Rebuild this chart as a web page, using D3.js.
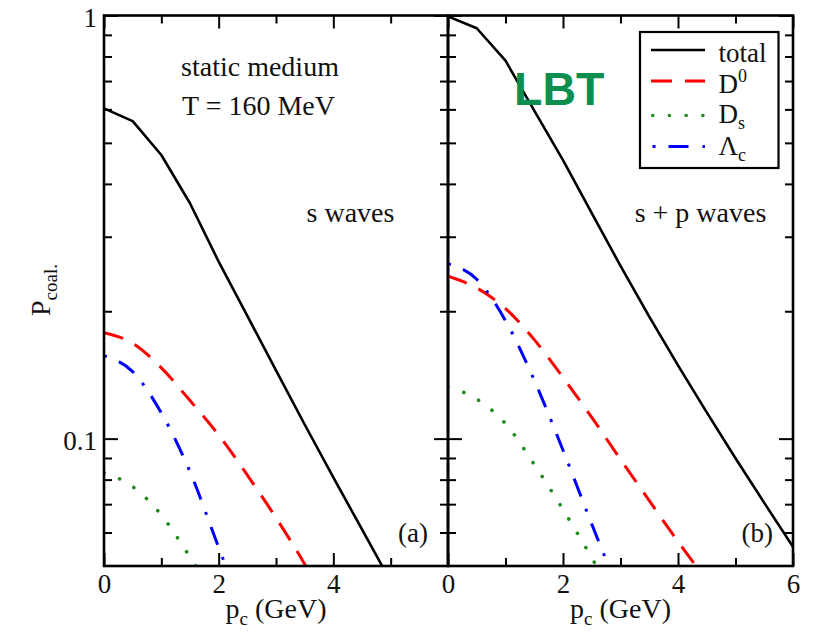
<!DOCTYPE html>
<html><head><meta charset="utf-8">
<script src="https://cdn.jsdelivr.net/npm/d3@7"></script>
<style>body{margin:0;background:#fff}</style>
</head><body>
<svg id="c" width="825" height="636"></svg>
<script>
// ---------------- data ----------------
const pc = [0, 0.5, 1, 1.5, 2, 2.5, 3, 3.5, 4, 4.5, 5, 5.5, 6];
// (a) s waves
const totalS = [0.603, 0.563, 0.468, 0.360, 0.262, 0.195, 0.145, 0.108, 0.081, 0.061, 0.046];
const d0S    = [0.178, 0.168, 0.147, 0.123, 0.102, 0.082, 0.065, 0.0505, 0.038];
const dsS    = [0.083, 0.077, 0.066, 0.0525, 0.041];
const lcS    = [0.157, 0.144, 0.115, 0.0835, 0.0553, 0.037];
// (b) s + p waves
const totalSP = [0.995, 0.933, 0.782, 0.596, 0.455, 0.3413, 0.256, 0.1942, 0.149, 0.1154, 0.0899, 0.0705, 0.0555];
const d0SP    = [0.242, 0.227, 0.203, 0.1714, 0.1395, 0.1123, 0.0893, 0.0714, 0.0571, 0.0463];
const dsSP    = [0.1324, 0.124, 0.1085, 0.0869, 0.068, 0.0523, 0.0396];
const lcSP    = [0.259, 0.238, 0.190, 0.1374, 0.0939, 0.0628, 0.0427];

const xMajorL = [0, 2, 4];
const xMajorR = [0, 2, 4, 6];
const xMinor = [1, 3, 5];
const yMajor = [0.1, 1];
const yMinor = [0.06, 0.07, 0.08, 0.09, 0.2, 0.3, 0.4, 0.5, 0.6, 0.7, 0.8, 0.9];
const legendLabels = ["total", "D", "D", "Λ"];
const legendScripts = ["", "0", "s", "c"];

// ---------------- layout ----------------
const serif = "'Liberation Serif','Times New Roman',serif";
const svg = d3.select('#c');
const yTop = 15.5, yBot = 566;
const y = d3.scaleLog().domain([0.05, 1]).range([yBot, yTop]);

const styles = {
  total: {color: '#000', width: 2.6, dash: null, cap: 'butt', curve: d3.curveLinear},
  d0:    {color: '#ff0000', width: 3, dash: '20,13', cap: 'butt', curve: d3.curveMonotoneX},
  ds:    {color: '#1e8c1e', width: 3.6, dash: '0.1,16.6', cap: 'round', curve: d3.curveMonotoneX},
  lc:    {color: '#0000ff', width: 3, dash: '3,13,19,13', cap: 'butt', curve: d3.curveMonotoneX}
};

const panels = [
  {x0: 104, x1: 448, id: 'a', majors: xMajorL,
   series: [['d0', d0S], ['ds', dsS], ['lc', lcS], ['total', totalS]]},
  {x0: 448, x1: 793, id: 'b', majors: xMajorR,
   series: [['d0', d0SP], ['ds', dsSP], ['lc', lcSP], ['total', totalSP]]}
];

const defs = svg.append('defs');

panels.forEach((P, i) => {
  const x = d3.scaleLinear().domain([0, 6]).range([P.x0, P.x1]);
  P.x = x;
  defs.append('clipPath').attr('id', 'clip' + P.id)
    .append('rect').attr('x', P.x0).attr('y', yTop).attr('width', P.x1 - P.x0).attr('height', yBot - yTop);

  const g = svg.append('g').attr('clip-path', `url(#clip${P.id})`);
  P.series.forEach(([key, vals]) => {
    const s = styles[key];
    const line = d3.line().x((d, j) => x(pc[j])).y(d => y(d)).curve(s.curve);
    g.append('path').datum(vals)
      .attr('d', line)
      .attr('fill', 'none')
      .attr('stroke', s.color)
      .attr('stroke-width', s.width)
      .attr('stroke-linecap', s.cap)
      .attr('stroke-linejoin', 'round')
      .attr('stroke-dasharray', s.dash);
  });

  // axes (inward ticks)
  const mk = (axis, tr, vals, size, labels) => {
    const a = svg.append('g').attr('transform', tr)
      .call(axis.tickValues(vals).tickSize(size).tickPadding(labels ? 8 : 0)
        .tickFormat(labels ? d3.format('') : () => ''));
    a.select('.domain').remove();
    a.selectAll('.tick line').attr('stroke', '#000').attr('stroke-width', 2);
    a.selectAll('.tick text').attr('font-family', serif).attr('font-size', 27).attr('fill', '#111');
    return a;
  };
  const xb = mk(d3.axisBottom(x), `translate(0,${yBot})`, P.majors, -13, true);
  xb.selectAll('.tick text').attr('dy', null).attr('y', 27);
  mk(d3.axisBottom(x), `translate(0,${yBot})`, xMinor, -8, false);
  mk(d3.axisTop(x), `translate(0,${yTop})`, P.majors, -13, false);
  mk(d3.axisTop(x), `translate(0,${yTop})`, xMinor, -8, false);

  const yl = mk(d3.axisLeft(y), `translate(${P.x0},0)`, yMajor, -14, i === 0);
  if (i === 0) yl.selectAll('.tick text').attr('x', -7).attr('dy', 11);
  mk(d3.axisLeft(y), `translate(${P.x0},0)`, yMinor, -8, false);
  mk(d3.axisRight(y), `translate(${P.x1},0)`, yMajor, -14, false);
  mk(d3.axisRight(y), `translate(${P.x1},0)`, yMinor, -8, false);

  // frame
  svg.append('rect').attr('x', P.x0).attr('y', yTop).attr('width', P.x1 - P.x0).attr('height', yBot - yTop)
    .attr('fill', 'none').attr('stroke', '#000').attr('stroke-width', 2.6);

  // x axis title
  const t = svg.append('text').attr('x', (P.x0 + P.x1) / 2).attr('y', 618)
    .attr('text-anchor', 'middle').attr('font-family', serif).attr('font-size', 28).attr('fill', '#111');
  t.append('tspan').text('p');
  t.append('tspan').attr('font-size', 19).attr('dy', 7).text('c');
  t.append('tspan').attr('dy', -7).text(' (GeV)');

  // panel tag
  svg.append('text').attr('x', P.x1 - 20).attr('y', 542).attr('text-anchor', 'end')
    .attr('font-family', serif).attr('font-size', 27).attr('fill', '#111').text(`(${P.id})`);
});

// y axis title
const yt = svg.append('text').attr('transform', 'translate(50,290) rotate(-90)')
  .attr('text-anchor', 'middle').attr('font-family', serif).attr('font-size', 28).attr('fill', '#111');
yt.append('tspan').text('P');
yt.append('tspan').attr('font-size', 19).attr('dy', 7).text('coal.');

// annotations
const ann = (x, yy, txt, anchor) => svg.append('text').attr('x', x).attr('y', yy)
  .attr('text-anchor', anchor || 'middle').attr('font-family', serif).attr('font-size', 28).attr('fill', '#111').text(txt);
ann(260, 76, 'static medium');
ann(258.5, 115, 'T = 160 MeV');
ann(350.5, 222, 's waves');
ann(700.5, 222, 's + p waves');

// LBT
svg.append('text').attr('x', 514).attr('y', 105)
  .attr('font-family', "'Liberation Sans',Arial,sans-serif").attr('font-weight', 'bold')
  .attr('font-size', 46.5).attr('fill', '#0b8f4f').text('LBT');

// legend
const lg = svg.append('g');
lg.append('rect').attr('x', 640).attr('y', 32).attr('width', 138.5).attr('height', 136)
  .attr('fill', 'none').attr('stroke', '#000').attr('stroke-width', 2.2);
const legKeys = ['total', 'd0', 'ds', 'lc'];
const legLineY = [50, 81, 115.5, 146.5];
const legBase = [61.5, 93, 122.5, 154.5];
const legDash = [null, '21,13', '0.1,16.6', '3,13,20,14'];
const legShift = [0, -11, 6, 6];
legKeys.forEach((k, i) => {
  const s = styles[k];
  lg.append('line').attr('x1', 651).attr('x2', 705).attr('y1', legLineY[i]).attr('y2', legLineY[i])
    .attr('stroke', s.color).attr('stroke-width', s.width).attr('stroke-linecap', s.cap)
    .attr('stroke-dasharray', legDash[i]).attr('stroke-dashoffset', k === 'ds' ? -1.7 : (k === 'lc' ? -1.5 : 0));
  const tx = lg.append('text').attr('x', 718.5).attr('y', legBase[i])
    .attr('font-family', serif).attr('font-size', 27).attr('fill', '#111');
  tx.append('tspan').text(legendLabels[i]);
  if (legendScripts[i]) tx.append('tspan').attr('font-size', 18).attr('dy', legShift[i]).text(legendScripts[i]);
});
</script>
</body></html>
